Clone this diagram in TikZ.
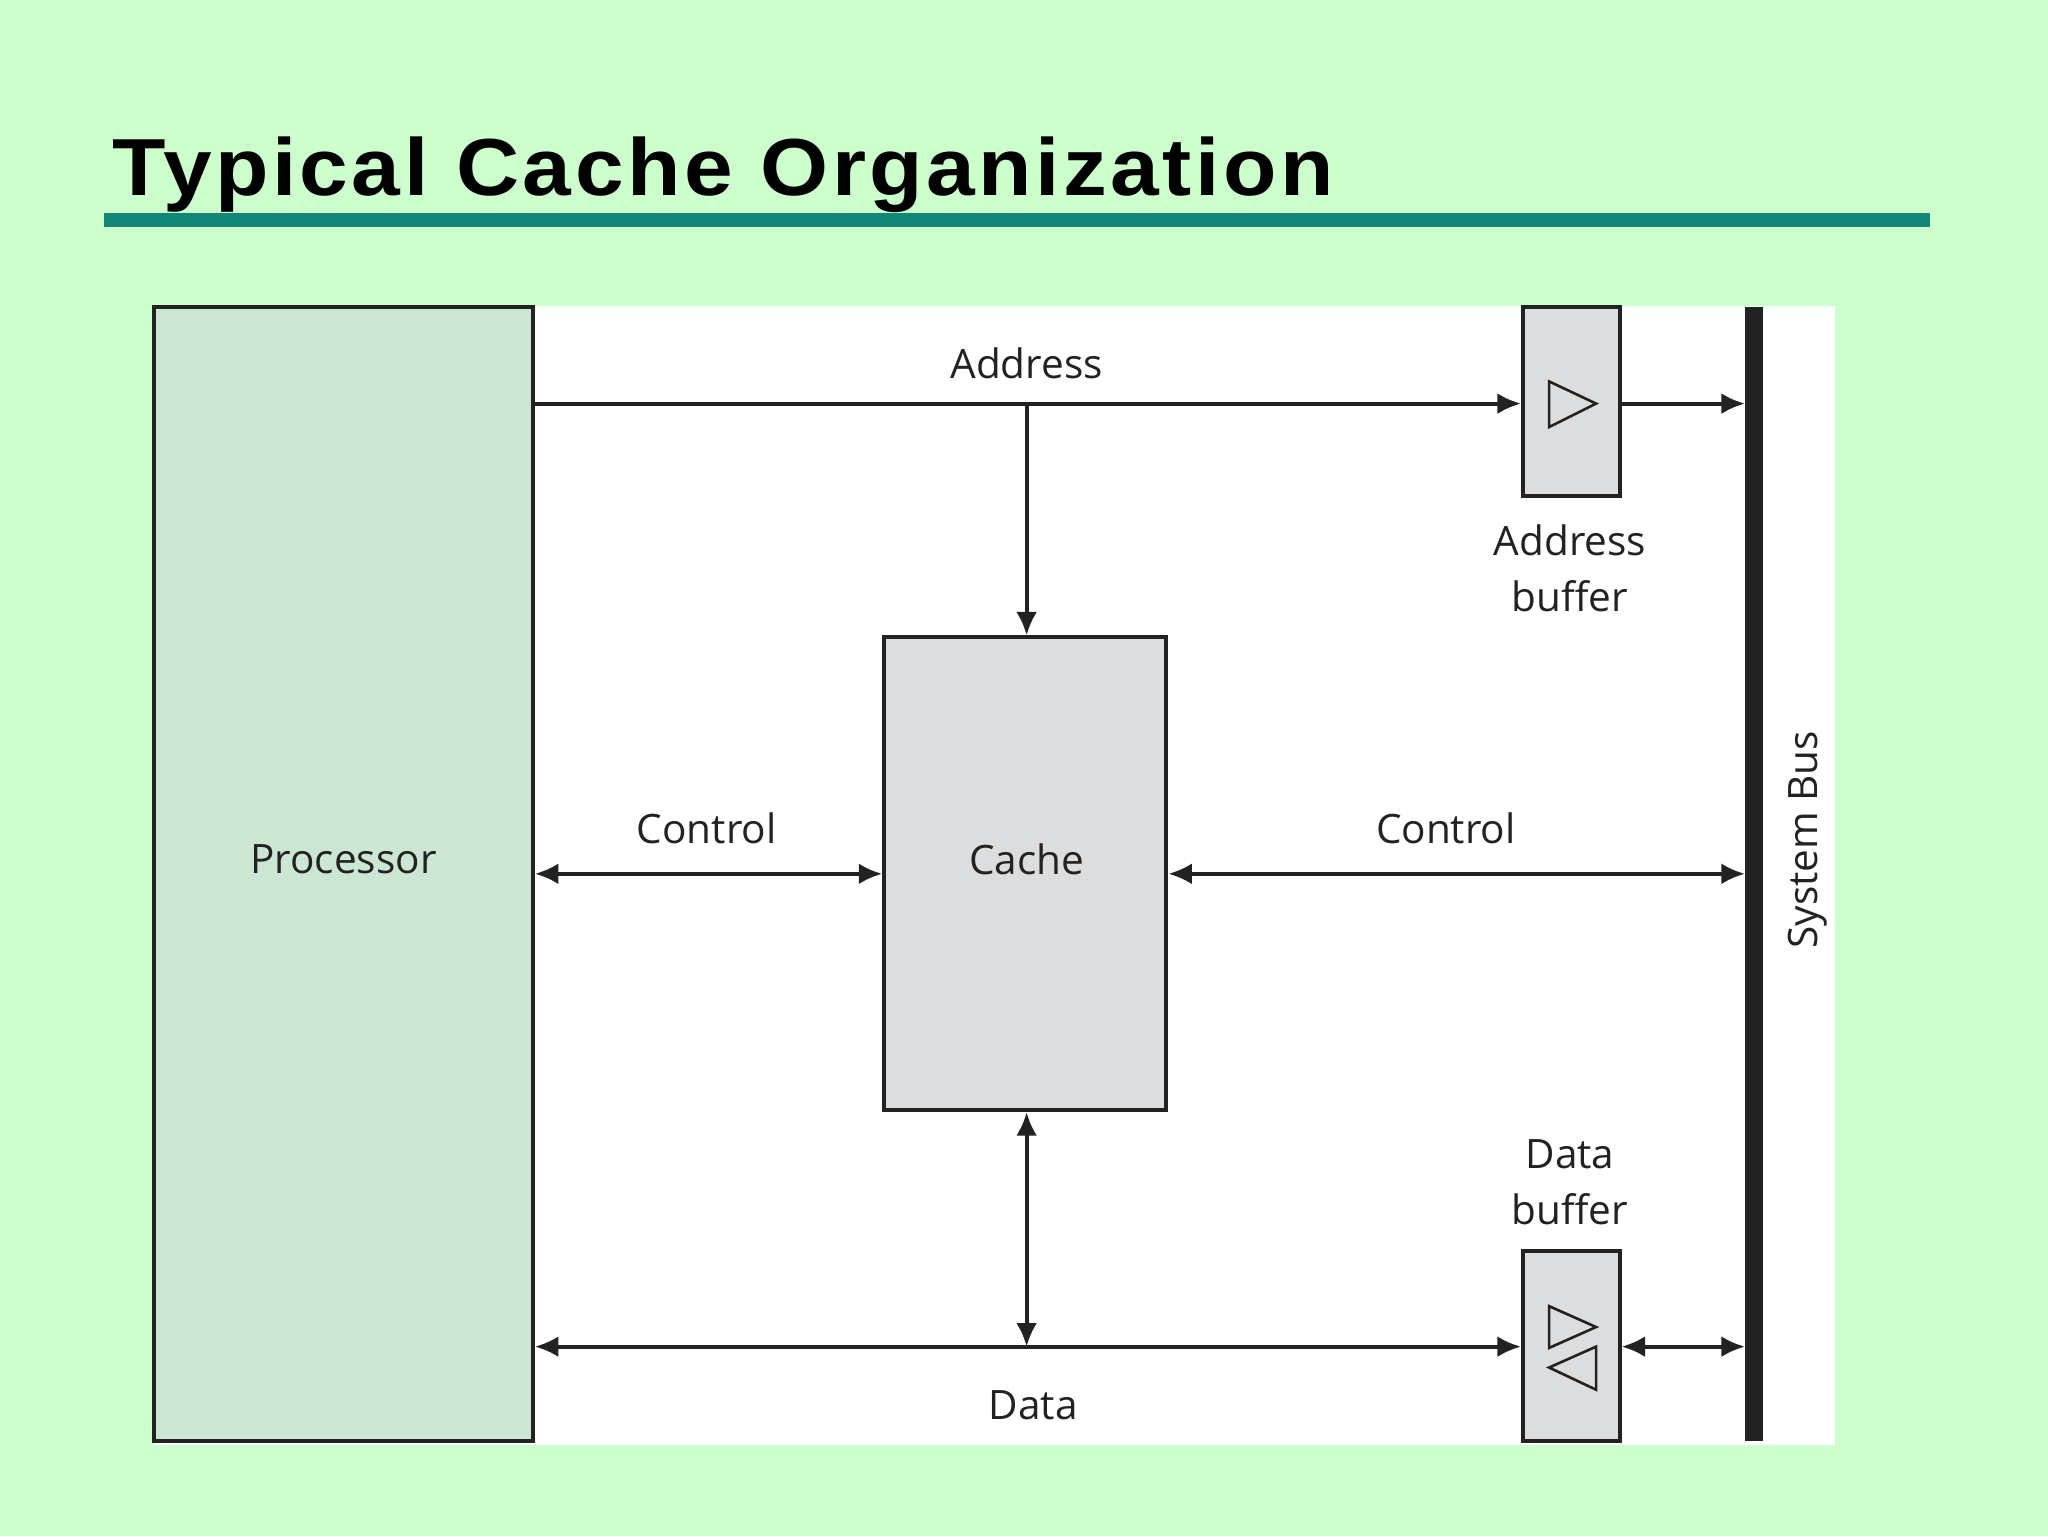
\documentclass[tikz,border=0pt]{standalone}
\usepackage{fontspec}
\setmainfont{Open Sans}
\newfontfamily\titlefont[LetterSpace=4]{Liberation Sans}
\usetikzlibrary{arrows.meta}
\definecolor{bg}{HTML}{CCFFCC}
\definecolor{teal}{HTML}{118877}
\definecolor{procfill}{HTML}{CCE6D4}
\definecolor{boxfill}{HTML}{DCDDDF}
\definecolor{ln}{HTML}{222222}
\begin{document}
\begin{tikzpicture}[x=1pt,y=-1pt,
  box/.style={draw=ln,line width=3pt,inner sep=0pt},
  conn/.style={draw=ln,line width=3pt,-{Latex[length=18pt,width=16pt]}},
  bi/.style={draw=ln,line width=3pt,{Latex[length=18pt,width=16pt]}-{Latex[length=18pt,width=16pt]}},
  lbl/.style={font=\fontsize{31}{43}\selectfont,text=ln,align=center},
  tri/.style={draw=ln,line width=2pt}]
\fill[bg] (0,0) rectangle (1568,1176);
\useasboundingbox (0,0) rectangle (1568,1176);
\node[anchor=base west,inner sep=0pt,font=\titlefont\bfseries\fontsize{62}{70}\selectfont,xscale=1.08] (title) at (86,150) {Typical Cache Organization};
\fill[teal] (80,163) rectangle (1478,174);
\fill[white] (118,234) rectangle (1405,1106);
\node[box,fill=procfill,minimum width=290pt,minimum height=868pt] (proc) at (263,669) {};
\node[lbl] at (263,658) {Processor};
\node[box,fill=boxfill,minimum width=216pt,minimum height=362pt] (cache) at (785,669) {};
\node[lbl] at (786,658) {Cache};
\node[box,fill=boxfill,minimum width=74pt,minimum height=145pt] (abuf) at (1203,307.5) {};
\node[box,fill=boxfill,minimum width=74pt,minimum height=145pt] (dbuf) at (1203,1030.5) {};
\draw[tri] (1186,292) -- (1186,327) -- (1222,309) -- cycle;
\draw[tri] (1186,1000) -- (1186,1032) -- (1222,1016) -- cycle;
\draw[tri] (1222,1031) -- (1222,1064) -- (1186,1047) -- cycle;
\draw[ln,line width=14pt] (1343,235) -- (1343,1103);
\coordinate (busA) at (1336,309);
\coordinate (busC) at (1336,669);
\coordinate (busD) at (1336,1031);
\coordinate (aL) at (proc.east |- busA);
\coordinate (aT) at (786,309);
\coordinate (cL) at (proc.east |- busC);
\coordinate (dL) at (proc.east |- busD);
\coordinate (dT) at (786,1031);
\draw[conn] (aL) -- (abuf.west |- busA);
\draw[conn] (abuf.east |- busA) -- (busA);
\draw[conn] (aT) -- (cache.north -| aT);
\draw[bi] (cL) -- (cache.west |- busC);
\draw[bi] (cache.east |- busC) -- (busC);
\draw[bi] (dL) -- (dbuf.west |- busD);
\draw[bi] (dbuf.east |- busD) -- (busD);
\draw[bi] (cache.south -| dT) -- (dT);
\node[lbl] at (786,278) {Address};
\node[lbl] at (1202,435) {Address\\buffer};
\node[lbl] at (541,634) {Control};
\node[lbl] at (1107,634) {Control};
\node[lbl] at (1202,905) {Data\\buffer};
\node[lbl] at (791,1076) {Data};
\node[lbl,rotate=90] at (1384,643) {System Bus};
\end{tikzpicture}
\end{document}
